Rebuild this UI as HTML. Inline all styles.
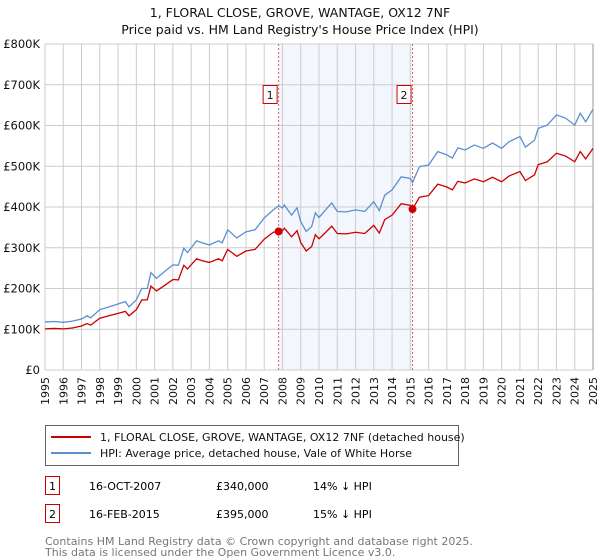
<!DOCTYPE html>
<html><head><meta charset="utf-8"><style>
body{margin:0;background:#fff;font-family:"Liberation Sans","DejaVu Sans",sans-serif;}
svg{display:block}
text{font-family:"DejaVu Sans","Liberation Sans",sans-serif;}
</style></head><body>
<svg id="chart" width="600" height="560" viewBox="0 0 600 560">
<text x="300" y="17" text-anchor="middle" font-size="12.5" fill="#111">1, FLORAL CLOSE, GROVE, WANTAGE, OX12 7NF</text>
<text x="300" y="34" text-anchor="middle" font-size="12.5" fill="#111">Price paid vs. HM Land Registry's House Price Index (HPI)</text>
<g id="plot"></g>
<g>
<rect x="45.5" y="425.5" width="413" height="40" fill="#fff" stroke="#666"/>
<line x1="51" y1="437" x2="91" y2="437" stroke="#cc0000" stroke-width="2"/>
<text x="100" y="441" font-size="11" fill="#111">1, FLORAL CLOSE, GROVE, WANTAGE, OX12 7NF (detached house)</text>
<line x1="51" y1="453" x2="91" y2="453" stroke="#5b8fd0" stroke-width="2"/>
<text x="100" y="457" font-size="11" fill="#111">HPI: Average price, detached house, Vale of White Horse</text>
</g>
<g>
<rect x="45.5" y="476.5" width="14" height="18" fill="#fff" stroke="#cc0000"/>
<text x="52.5" y="490" text-anchor="middle" font-size="11">1</text>
<text x="89" y="490" font-size="11">16-OCT-2007</text>
<text x="216" y="490" font-size="11">£340,000</text>
<text x="313" y="490" font-size="11">14% ↓ HPI</text>
</g>
<g>
<rect x="45.5" y="504.5" width="14" height="18" fill="#fff" stroke="#cc0000"/>
<text x="52.5" y="518" text-anchor="middle" font-size="11">2</text>
<text x="89" y="518" font-size="11">16-FEB-2015</text>
<text x="216" y="518" font-size="11">£395,000</text>
<text x="313" y="518" font-size="11">15% ↓ HPI</text>
</g>
<text x="45" y="545" font-size="11" fill="#777">Contains HM Land Registry data © Crown copyright and database right 2025.</text>
<text x="45" y="556" font-size="11" fill="#777">This data is licensed under the Open Government Licence v3.0.</text>
</svg>
<script>
const yTicks=[0,100,200,300,400,500,600,700,800];
const yTickLabels=["£0","£100K","£200K","£300K","£400K","£500K","£600K","£700K","£800K"];
const xYears=[1995,1996,1997,1998,1999,2000,2001,2002,2003,2004,2005,2006,2007,2008,2009,2010,2011,2012,2013,2014,2015,2016,2017,2018,2019,2020,2021,2022,2023,2024,2025];
const dates=[1995.0,1995.5,1996.0,1996.5,1997.0,1997.3,1997.5,1998.0,1998.5,1999.0,1999.4,1999.6,2000.0,2000.3,2000.6,2000.8,2001.1,2001.5,2002.0,2002.3,2002.6,2002.8,2003.3,2003.6,2004.0,2004.5,2004.7,2005.0,2005.5,2006.0,2006.5,2007.0,2007.5,2007.79,2008.0,2008.1,2008.5,2008.8,2009.0,2009.3,2009.6,2009.8,2010.0,2010.3,2010.7,2011.0,2011.5,2012.0,2012.5,2013.0,2013.3,2013.6,2014.0,2014.5,2015.0,2015.12,2015.5,2016.0,2016.5,2017.0,2017.3,2017.6,2018.0,2018.5,2019.0,2019.5,2020.0,2020.4,2021.0,2021.3,2021.8,2022.0,2022.5,2023.0,2023.5,2024.0,2024.3,2024.6,2025.0];
const hpiValues=[118,119,117,120,125,133,128,148,155,162,168,155,172,200,200,239,225,240,258,257,299,288,317,312,307,317,312,344,324,339,344,373,393,403,398,405,380,398,364,340,352,386,374,390,410,389,388,393,389,413,391,429,442,474,470,460,499,503,536,528,520,545,540,552,544,557,544,560,573,547,564,593,601,626,618,601,630,609,640];
const priceValues=[101,102,101,103,108,114,110,127,133,139,144,133,148,172,172,206,194,206,222,221,257,248,273,268,264,273,268,296,279,292,296,321,338,340,342,348,327,342,313,292,303,332,322,335,353,335,334,338,335,355,336,369,380,408,404,395,424,428,456,449,442,463,459,469,462,473,462,476,487,465,479,504,511,532,525,511,536,518,544];
const saleDates=[2007.79,2015.12];
const salePrices=[340,395];
const saleLabels=["1","2"];

const NS="http://www.w3.org/2000/svg";
const X0=45,X1=593,Y0=370,Y1=44;
const xs=y=>X0+(y-1995)/(2025-1995)*(X1-X0);
const ys=v=>Y0-v/800*(Y0-Y1);
const plot=document.getElementById('plot');
function mk(tag,attrs,parent){const e=document.createElementNS(NS,tag);for(const k in attrs)e.setAttribute(k,attrs[k]);(parent||plot).appendChild(e);return e;}

const shade=mk('rect',{x:xs(saleDates[0]),y:Y1,width:xs(saleDates[1])-xs(saleDates[0]),height:Y0-Y1,fill:'#eef3fc',opacity:0.7});



xYears.forEach(yr=>{
  const g=mk('line',{x1:xs(yr),x2:xs(yr),y1:Y1,y2:Y0,stroke:'#cccccc','stroke-width':1});
  
  
  const t=mk('text',{x:0,y:0,'font-size':11,fill:'#111','text-anchor':'end',transform:`translate(${xs(yr)+4},377) rotate(-90)`});
  t.textContent=yr;
  
  
});
yTicks.forEach((v,i)=>{
  const g=mk('line',{x1:X0,x2:X1,y1:ys(v),y2:ys(v),stroke:'#cccccc','stroke-width':1});
  
  
  const t=mk('text',{x:40,y:ys(v)+4,'font-size':11.5,fill:'#111','text-anchor':'end'});
  t.textContent=yTickLabels[i];
  
  
});
const ax=mk('line',{x1:X1,x2:X1,y1:Y1,y2:Y0,stroke:'#999','stroke-width':1});



saleDates.forEach((d,i)=>{
  const l=mk('line',{x1:xs(d),x2:xs(d),y1:Y1,y2:Y0,stroke:'#e06060','stroke-width':1,'stroke-dasharray':'2,2'});
  
  
  const r=mk('rect',{x:xs(d)-15.5,y:85.5,width:14,height:18,fill:'#fff',stroke:'#cc0000'});
  
  
  const t=mk('text',{x:xs(d)-8.5,y:99,'font-size':11,'text-anchor':'middle',fill:'#111'});
  t.textContent=saleLabels[i];
  
  
});

const hp=mk('polyline',{points:dates.map((d,i)=>xs(d)+','+ys(hpiValues[i])).join(' '),fill:'none',stroke:'#5b8fd0','stroke-width':1.3});


const pp=mk('polyline',{points:dates.map((d,i)=>xs(d)+','+ys(priceValues[i])).join(' '),fill:'none',stroke:'#cc0000','stroke-width':1.3});


saleDates.forEach((d,i)=>{
  const c=mk('circle',{cx:xs(d),cy:ys(salePrices[i]),r:4,fill:'#cc0000'});
  
  
});
</script>
</body></html>
